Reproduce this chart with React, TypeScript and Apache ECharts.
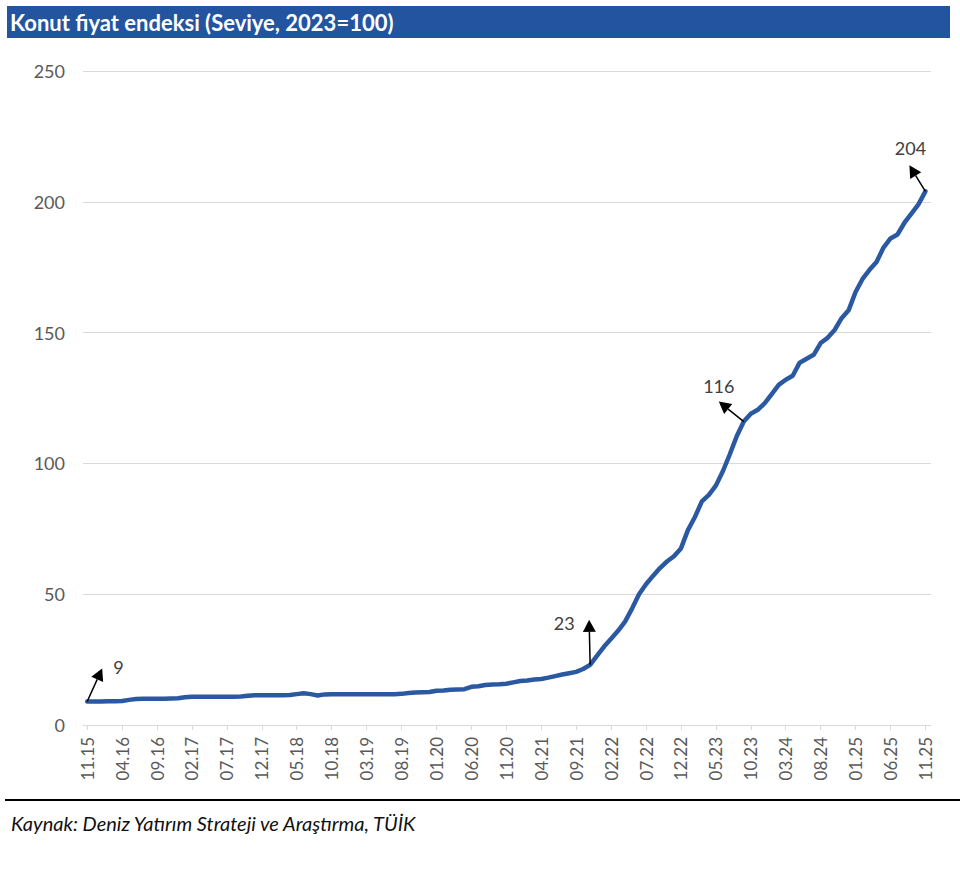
import React, { useEffect, useRef } from "react";
import * as echarts from "echarts";

// Monthly index values, 11.2015 … 11.2025 (121 months)
const indexValues: number[] = [
  9.0, 9.0, 9.0, 9.1, 9.1, 9.2, 9.6, 9.9, 10.0, 10.0,
  10.0, 10.0, 10.1, 10.2, 10.6, 10.8, 10.8, 10.8, 10.8, 10.8,
  10.8, 10.8, 10.9, 11.2, 11.4, 11.4, 11.4, 11.4, 11.4, 11.5,
  11.8, 12.1, 11.8, 11.3, 11.7, 11.8, 11.8, 11.8, 11.8, 11.8,
  11.8, 11.8, 11.8, 11.8, 11.8, 11.9, 12.2, 12.4, 12.5, 12.6,
  13.1, 13.2, 13.5, 13.6, 13.7, 14.6, 14.8, 15.3, 15.5, 15.6,
  15.8, 16.3, 16.8, 17.0, 17.4, 17.6, 18.1, 18.7, 19.3, 19.8,
  20.3, 21.4, 23.0, 26.5, 30.0, 33.0, 36.0, 39.5, 44.5, 50.0,
  53.8, 57.0, 60.0, 62.5, 64.5, 67.5, 74.5, 79.5, 85.5, 88.0,
  91.5, 97.0, 103.5, 110.5, 116.0, 119.0, 120.5, 123.0, 126.5, 130.0,
  132.0, 133.5, 138.5, 140.0, 141.5, 146.0, 148.0, 151.0, 155.5, 158.5,
  165.5, 170.5, 174.0, 177.0, 182.5, 186.0, 187.5, 192.0, 195.5, 199.0,
  204.0,
];

// x tick labels, one every 5 months
const tickLabels: string[] = [
  "11.15", "04.16", "09.16", "02.17", "07.17", "12.17", "05.18", "10.18", "03.19",
  "08.19", "01.20", "06.20", "11.20", "04.21", "09.21", "02.22", "07.22", "12.22",
  "05.23", "10.23", "03.24", "08.24", "01.25", "06.25", "11.25",
];
const tickStep = 5;

const yTicks = { min: 0, max: 250, interval: 50 };

// annotated points: month index, label
const annotationIdx: number[] = [0, 72, 94, 120];
const annotationLabels: string[] = ["9", "23", "116", "204"];

const titleText = "Konut fiyat endeksi (Seviye, 2023=100)";
const sourceText = "Kaynak: Deniz Yatırım Strateji ve Araştırma, TÜİK";

// arrow/text offsets in pixels relative to the point (styling)
const annotationLayout = [
  { dx: 15, dy: -33, tx: 26, ty: -34, align: "left" },
  { dx: -1, dy: -45, tx: -26, ty: -42, align: "center" },
  { dx: -25, dy: -20, tx: -25, ty: -36, align: "center" },
  { dx: -16, dy: -26, tx: -15, ty: -43, align: "center" },
];

const BLUE = "#2a59a2";
const FONT = "Lato, 'Open Sans', sans-serif";

export default function App() {
  const ref = useRef<HTMLDivElement>(null);

  useEffect(() => {
    if (!ref.current) return;
    const chart = echarts.init(ref.current, null, { renderer: "svg" });
    const data = indexValues.map((v, i) => [i, v]);
    const tickPositions = tickLabels.map((_, i) => i * tickStep);

    chart.setOption({
      animation: false,
      backgroundColor: "#ffffff",
      grid: { left: 83, right: 29, top: 71, bottom: 150, containLabel: false },
      xAxis: {
        type: "value",
        min: -0.6,
        max: 120.8,
        splitLine: { show: false },
        axisLine: { show: true, lineStyle: { color: "#d9d9d9", width: 1 } },
        axisTick: {
          show: true,
          customValues: tickPositions,
          length: 5,
          lineStyle: { color: "#d9d9d9" },
        },
        axisLabel: {
          customValues: tickPositions,
          rotate: 90,
          margin: 12,
          color: "#595959",
          fontSize: 17,
          fontFamily: FONT,
          formatter: (val: number) => tickLabels[Math.round(val / tickStep)] ?? "",
        },
      },
      yAxis: {
        type: "value",
        min: yTicks.min,
        max: yTicks.max,
        interval: yTicks.interval,
        axisLine: { show: false },
        axisTick: { show: false },
        splitLine: { lineStyle: { color: "#d9d9d9", width: 1 } },
        axisLabel: { color: "#595959", fontSize: 18, fontFamily: FONT, margin: 18 },
      },
      series: [
        {
          type: "line",
          data,
          showSymbol: false,
          symbol: "none",
          lineStyle: { color: BLUE, width: 4.5, cap: "round", join: "round" },
          z: 3,
        },
      ],
    });

    const elements: any[] = [
      { type: "rect", shape: { x: 7, y: 6, width: 943, height: 32 }, style: { fill: "#2254a0" }, silent: true },
      {
        type: "text",
        x: 10,
        y: 22,
        style: { text: titleText, fill: "#ffffff", font: `bold 22px ${FONT}`, verticalAlign: "middle" },
        silent: true,
      },
      {
        type: "line",
        shape: { x1: 5, y1: 800, x2: 960, y2: 800 },
        style: { stroke: "#000000", lineWidth: 2 },
        silent: true,
      },
      {
        type: "text",
        x: 11,
        y: 823,
        style: { text: sourceText, fill: "#111111", font: `italic 20px ${FONT}`, verticalAlign: "middle" },
        silent: true,
      },
    ];

    // annotations positioned through the chart's own scales
    annotationIdx.forEach((idx, k) => {
      const p = chart.convertToPixel({ seriesIndex: 0 }, [idx, indexValues[idx]]) as number[];
      const L = annotationLayout[k];
      const tipX = p[0] + L.dx;
      const tipY = p[1] + L.dy;
      const len = Math.hypot(L.dx, L.dy);
      const ux = L.dx / len;
      const uy = L.dy / len;
      const headLen = 12;
      const headW = 6.5;
      const bx = tipX - ux * headLen;
      const by = tipY - uy * headLen;
      elements.push({
        type: "line",
        shape: { x1: p[0], y1: p[1], x2: bx, y2: by },
        style: { stroke: "#000000", lineWidth: 1.5 },
        z: 10,
        silent: true,
      });
      elements.push({
        type: "polygon",
        shape: {
          points: [
            [tipX, tipY],
            [bx - uy * headW, by + ux * headW],
            [bx + uy * headW, by - ux * headW],
          ],
        },
        style: { fill: "#000000" },
        z: 10,
        silent: true,
      });
      elements.push({
        type: "text",
        x: p[0] + L.tx,
        y: p[1] + L.ty,
        style: {
          text: annotationLabels[k],
          fill: "#404040",
          font: `18px ${FONT}`,
          align: L.align,
          verticalAlign: "middle",
        },
        z: 10,
        silent: true,
      });
    });

    chart.setOption({ graphic: { elements } });

    return () => chart.dispose();
  }, []);

  return (
    <div
      ref={ref}
      style={{ position: "absolute", left: 0, top: 0, width: 960, height: 875, background: "#fff" }}
    />
  );
}
